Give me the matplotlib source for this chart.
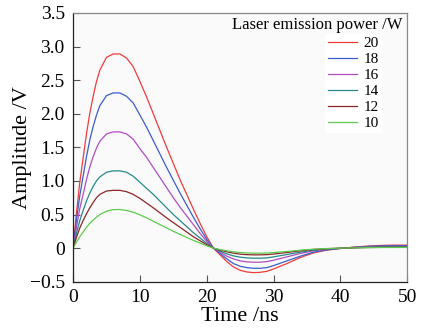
import numpy as np
import matplotlib
matplotlib.use('Agg')
import matplotlib.pyplot as plt
from matplotlib.ticker import FuncFormatter

## time axis (ns)
time_ns = [0, 0.5, 1, 1.5, 2, 2.5, 3, 3.5, 4, 5, 6, 7, 8, 9, 10, 11, 12, 13, 14, 15, 16, 17, 18, 19, 20,
           21, 22, 23, 24, 25, 26, 27, 28, 29, 30, 32, 34, 36, 38, 40, 42, 44, 46, 48, 50]

## amplitude (V) for each laser emission power
amp_20 = [0, 0.52, 0.98, 1.34, 1.70, 2.01, 2.26, 2.48, 2.65, 2.84, 2.89, 2.89, 2.83, 2.70, 2.48, 2.25,
          2.00, 1.75, 1.50, 1.26, 1.02, 0.80, 0.58, 0.37, 0.17,
          0.0, -0.10, -0.20, -0.28, -0.33, -0.355, -0.365, -0.36, -0.345, -0.31,
          -0.23, -0.14, -0.07, -0.03, -0.005, 0.015, 0.03, 0.04, 0.045, 0.045]
amp_18 = [0, 0.42, 0.78, 1.07, 1.36, 1.61, 1.81, 1.98, 2.12, 2.27, 2.31, 2.31, 2.26, 2.16, 1.98, 1.80,
          1.60, 1.40, 1.20, 1.01, 0.82, 0.64, 0.46, 0.29, 0.13,
          0.0, -0.08, -0.16, -0.23, -0.27, -0.29, -0.30, -0.30, -0.29, -0.26,
          -0.19, -0.12, -0.06, -0.025, -0.005, 0.012, 0.025, 0.033, 0.037, 0.037]
amp_16 = [0, 0.31, 0.59, 0.80, 1.02, 1.21, 1.36, 1.49, 1.59, 1.70, 1.73, 1.73, 1.70, 1.62, 1.48, 1.35,
          1.20, 1.05, 0.90, 0.75, 0.61, 0.48, 0.35, 0.22, 0.10,
          0.0, -0.06, -0.12, -0.16, -0.19, -0.205, -0.21, -0.21, -0.20, -0.18,
          -0.13, -0.08, -0.04, -0.017, -0.003, 0.009, 0.018, 0.023, 0.026, 0.026]
amp_14 = [0, 0.22, 0.41, 0.56, 0.70, 0.82, 0.92, 1.00, 1.06, 1.13, 1.15, 1.15, 1.13, 1.07, 0.98, 0.89,
          0.80, 0.70, 0.60, 0.50, 0.41, 0.32, 0.23, 0.15, 0.07,
          0.0, -0.045, -0.085, -0.115, -0.135, -0.145, -0.15, -0.15, -0.145, -0.13,
          -0.095, -0.06, -0.03, -0.012, -0.002, 0.006, 0.013, 0.017, 0.019, 0.019]
amp_12 = [0, 0.16, 0.30, 0.41, 0.51, 0.60, 0.68, 0.75, 0.80, 0.85, 0.86, 0.86, 0.84, 0.80, 0.74, 0.67,
          0.60, 0.525, 0.45, 0.38, 0.31, 0.24, 0.17, 0.11, 0.05,
          0.0, -0.03, -0.055, -0.075, -0.09, -0.097, -0.10, -0.10, -0.097, -0.088,
          -0.065, -0.04, -0.02, -0.008, -0.001, 0.004, 0.009, 0.011, 0.013, 0.013]
amp_10 = [0, 0.09, 0.17, 0.24, 0.31, 0.37, 0.42, 0.46, 0.50, 0.55, 0.573, 0.575, 0.56, 0.535, 0.495, 0.45,
          0.40, 0.35, 0.30, 0.25, 0.205, 0.16, 0.115, 0.075, 0.035,
          0.0, -0.022, -0.04, -0.055, -0.065, -0.072, -0.075, -0.075, -0.073, -0.066,
          -0.05, -0.03, -0.015, -0.006, 0.0, 0.004, 0.007, 0.009, 0.01, 0.01]

series = [amp_20, amp_18, amp_16, amp_14, amp_12, amp_10]
labels = ['20', '18', '16', '14', '12', '10']
colors = ['#f03c3c', '#3c5ccc', '#b04cc0', '#238a8a', '#8c2626', '#5ccc4c']

plt.rcParams['font.family'] = ['Liberation Serif', 'DejaVu Serif']

fig = plt.figure(figsize=(4.3, 3.33), dpi=100)
ax = fig.add_axes([0.170, 0.154, 0.777, 0.807])
ax.set_facecolor('#fafafa')

for y, lab, c in zip(series, labels, colors):
    ax.plot(time_ns, y, color=c, lw=0.9, label=lab)

ax.set_xlim(0, 50)
ax.set_ylim(-0.5, 3.5)
ax.set_xticks(np.arange(0, 51, 10))
ax.set_yticks(np.arange(-0.5, 3.51, 0.5))

def yfmt(v, pos):
    if abs(v) < 1e-9:
        return '0'
    return ('%.1f' % v).replace('-', '\u2212')

ax.yaxis.set_major_formatter(FuncFormatter(yfmt))
ax.tick_params(direction='in', length=5, width=0.8, labelsize=14,
               top=False, right=False, color='#555555')
ax.tick_params(axis='x', pad=5)
ax.tick_params(axis='y', pad=6)
ax.set_xlabel('Time /ns', fontsize=16, labelpad=1)
ax.set_ylabel('Amplitude /V', fontsize=16, labelpad=-2)

for side in ['left', 'bottom']:
    ax.spines[side].set_color('#222222')
    ax.spines[side].set_linewidth(0.9)
for side in ['top', 'right']:
    ax.spines[side].set_color('#888888')
    ax.spines[side].set_linewidth(0.9)

ax.text(0.985, 0.985, 'Laser emission power /W', transform=ax.transAxes,
        ha='right', va='top', fontsize=12)
leg = ax.legend(loc='upper right', bbox_to_anchor=(0.945, 0.95), fontsize=11,
                frameon=True, fancybox=False, handlelength=1.9, handletextpad=0.45,
                labelspacing=0.15, borderpad=0.15)
leg.get_frame().set_facecolor('white')
leg.get_frame().set_edgecolor('white')
leg.get_frame().set_alpha(1)

fig.savefig('out.png', dpi=100)
